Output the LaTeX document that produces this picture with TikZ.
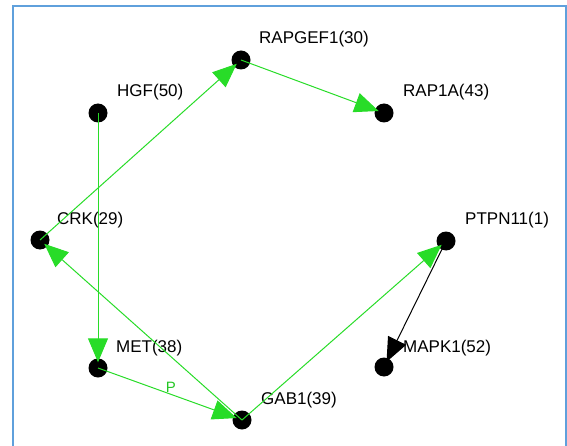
\documentclass[tikz,border=0pt]{standalone}
\usepackage{fontspec}
\setmainfont{Liberation Sans}
\usetikzlibrary{arrows.meta}
\definecolor{edgegreen}{RGB}{40,220,40}
\definecolor{frameblue}{RGB}{95,160,220}
\tikzset{
  dot/.style={circle, fill=black, inner sep=0pt, minimum size=19pt},
  lbl/.style={anchor=base west, inner sep=0pt, text=black, font=\fontsize{17}{17}\selectfont},
  gedge/.style={draw=edgegreen, line width=1pt, -{Triangle[length=24pt,width=20pt]}, shorten >=-4pt},
  bedge/.style={draw=black, line width=1pt, -{Triangle[length=24pt,width=20pt]}, shorten >=-4pt},
  elbl/.style={text=edgegreen!90!black, inner sep=1pt, font=\fontsize{15}{15}\selectfont},
  frame/.style={draw=frameblue, line width=2pt}
}
\begin{document}
\begin{tikzpicture}[x=1pt,y=1pt]
\useasboundingbox (0,0) rectangle (567,445);
\draw[frame] (12.5,-2) -- (12.5,439) -- (565.5,439) -- (565.5,-2);
% nodes
\node[dot] (rapgef1) at (241,385) {};
\node[dot] (hgf) at (98,332) {};
\node[dot] (rap1a) at (384,332) {};
\node[dot] (crk) at (40,205) {};
\node[dot] (ptpn11) at (446,204) {};
\node[dot] (met) at (98,77) {};
\node[dot] (mapk1) at (384,78) {};
\node[dot] (gab1) at (242,25) {};
% labels
\node[lbl] (lrapgef1) at (259,401) {RAPGEF1(30)};
\node[lbl] (lhgf) at (117,348) {HGF(50)};
\node[lbl] (lrap1a) at (403,348) {RAP1A(43)};
\node[lbl] (lcrk) at (57,221) {CRK(29)};
\node[lbl] (lptpn11) at (465,221) {PTPN11(1)};
\node[lbl] (lmet) at (116,93) {MET(38)};
\node[lbl] (lmapk1) at (403,93) {MAPK1(52)};
\node[lbl] (lgab1) at (261,41) {GAB1(39)};
% edges
\draw[gedge] (hgf.center) -- (met);
\draw[gedge] (crk.center) -- (rapgef1);
\draw[gedge] (rapgef1.center) -- (rap1a);
\draw[gedge] (gab1.center) -- (crk);
\draw[gedge] (gab1.center) -- (ptpn11);
\draw[gedge] (met.center) -- node[elbl, pos=0.54, above] (p) {P} (gab1);
\draw[bedge] (ptpn11.center) -- (mapk1);
\end{tikzpicture}
\end{document}
